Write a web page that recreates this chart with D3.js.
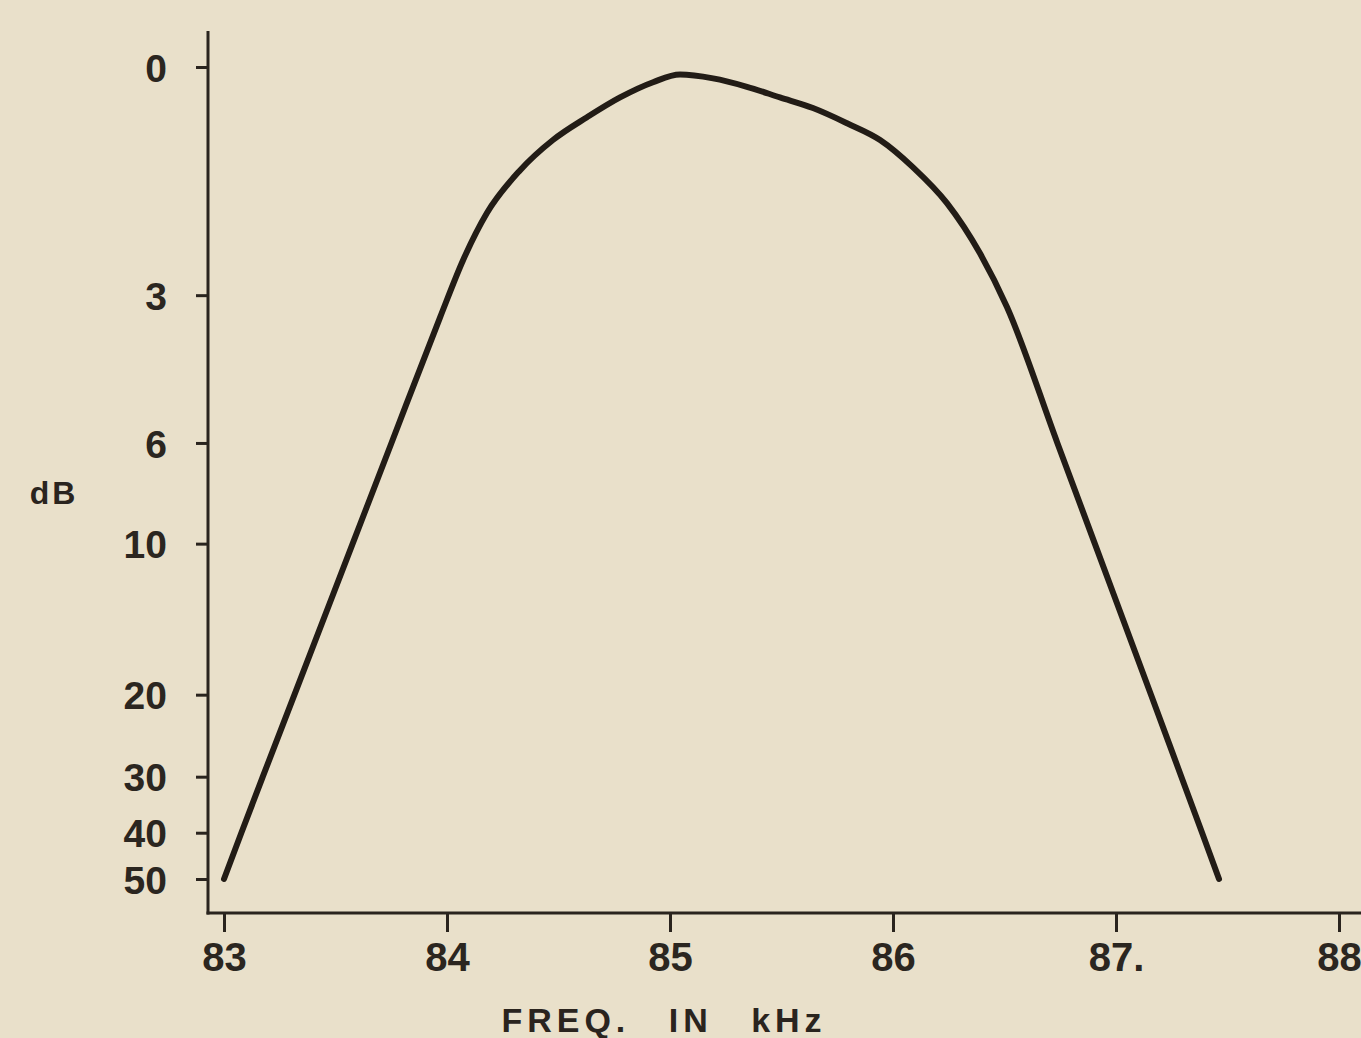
<!DOCTYPE html>
<html>
<head>
<meta charset="utf-8">
<script src="https://cdn.jsdelivr.net/npm/d3@7"></script>
<style>
  html, body { margin: 0; padding: 0; background: #e9e0ca; }
  svg { display: block; }
  .tick text { font-family: "Liberation Sans", Arial, sans-serif; font-weight: bold; fill: #2b2620; }
</style>
</head>
<body>
<div id="chart"></div>
<script>
// frequency response of the filter
const freqKHz = [83.0, 83.078, 83.174, 83.316, 83.577, 83.751, 83.969, 84.072, 84.179, 84.327, 84.475,
  84.628, 84.776, 84.924, 85.045, 85.193, 85.345, 85.493, 85.641, 85.794, 85.942, 86.090, 86.242,
  86.390, 86.511, 86.737, 86.905, 87.157, 87.293, 87.386, 87.462]
const attenDb = [50, 40, 30, 20, 10, 6, 3.45, 2.54, 1.92, 1.36, 0.96,
  0.66, 0.40, 0.20, 0.10, 0.15, 0.26, 0.40, 0.54, 0.74, 0.96, 1.32, 1.79,
  2.45, 3.24, 6, 10, 20, 30, 40, 50]

// axis ticks
const dbTicks = [0, 3, 6, 10, 20, 30, 40, 50]
const freqTicks = [83, 84, 85, 86, 87, 88]
const freqLabels = ["83", "84", "85", "86", "87.", "88"]

// the dB axis is hand drawn and uneven, so each tick gets its own spot (fraction of the plot height)
const dbTickSpots = [0, 0.281, 0.463, 0.587, 0.773, 0.874, 0.943, 1]

const width = 1361,
  height = 1038;

const svg = d3.select("#chart")
  .append("svg")
  .attr("width", width)
  .attr("height", height)

const plotTop = 67, plotBottom = 879
const axisX = 208, axisY = 913

// scales
const x = d3.scaleLinear()
  .domain([83, 88])
  .range([224, 1339])

const y = d3.scaleLinear()
  .domain(dbTicks)
  .range(dbTickSpots.map(f => plotTop + f * (plotBottom - plotTop)))

const ink = "#2a241e"

// y axis
svg.append("g")
  .attr("transform", `translate(${axisX},0)`)
  .call(d3.axisLeft(y).tickValues(dbTicks).tickSize(12).tickPadding(29).tickFormat(d => d))
  .call(g => g.select(".domain").remove())
  .call(g => g.selectAll(".tick line").attr("stroke", ink).attr("stroke-width", 3))
  .call(g => g.selectAll(".tick text").attr("font-size", 39).attr("dy", "0.36em"))

svg.append("line")
  .attr("x1", axisX).attr("x2", axisX)
  .attr("y1", 31).attr("y2", axisY + 1.5)
  .attr("stroke", ink)
  .attr("stroke-width", 3)

// x axis
svg.append("g")
  .attr("transform", `translate(0,${axisY})`)
  .call(d3.axisBottom(x).tickValues(freqTicks).tickSize(19).tickPadding(11)
    .tickFormat((d, i) => freqLabels[i]))
  .call(g => g.select(".domain").remove())
  .call(g => g.selectAll(".tick line").attr("stroke", ink).attr("stroke-width", 3))
  .call(g => g.selectAll(".tick text").attr("font-size", 40))

svg.append("line")
  .attr("x1", axisX - 1.5).attr("x2", width)
  .attr("y1", axisY).attr("y2", axisY)
  .attr("stroke", ink)
  .attr("stroke-width", 3)

// axis titles
svg.append("text")
  .attr("x", 54)
  .attr("y", 492)
  .attr("dy", "0.36em")
  .attr("text-anchor", "middle")
  .attr("font-family", "Liberation Sans, Arial, sans-serif")
  .attr("font-weight", "bold")
  .attr("font-size", 32)
  .attr("letter-spacing", 3)
  .attr("fill", ink)
  .text("dB")

svg.append("text")
  .attr("x", 664)
  .attr("y", 1032)
  .attr("text-anchor", "middle")
  .attr("font-family", "Liberation Sans, Arial, sans-serif")
  .attr("font-weight", "bold")
  .attr("font-size", 34)
  .attr("letter-spacing", 5)
  .attr("word-spacing", 24)
  .attr("fill", ink)
  .text("FREQ. IN kHz")

// response curve
const line = d3.line()
  .x((d, i) => x(freqKHz[i]))
  .y(d => y(d))
  .curve(d3.curveMonotoneX)

svg.append("path")
  .datum(attenDb)
  .attr("d", line)
  .attr("fill", "none")
  .attr("stroke", "#221c16")
  .attr("stroke-width", 6)
  .attr("stroke-linecap", "round")
  .attr("stroke-linejoin", "round")
</script>
</body>
</html>
